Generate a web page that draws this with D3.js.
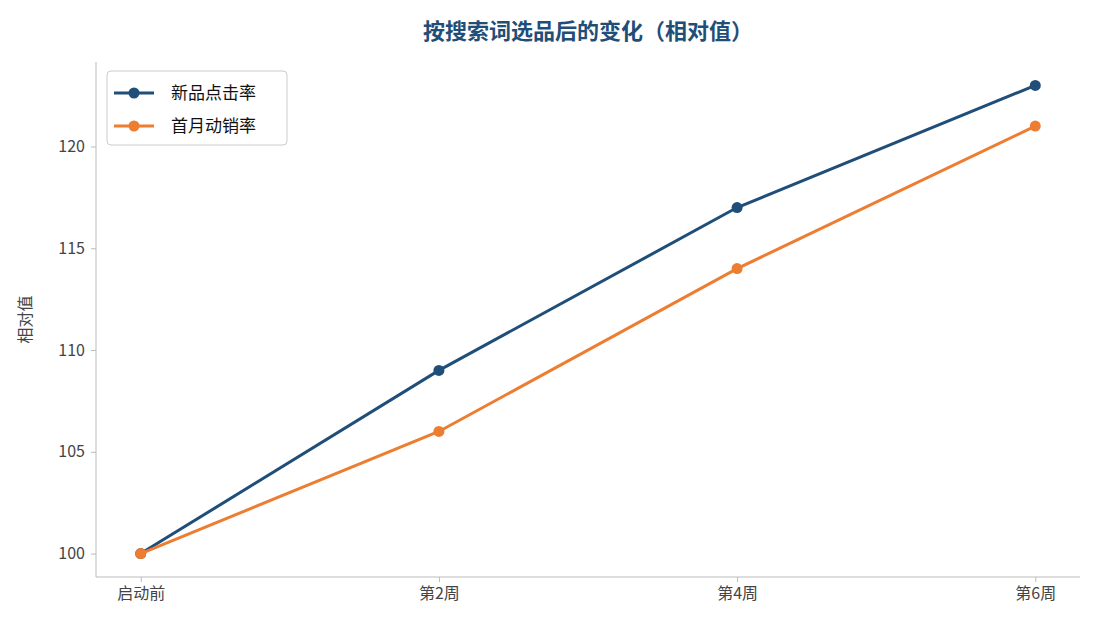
<!DOCTYPE html>
<html><head><meta charset="utf-8">
<script src="https://cdn.jsdelivr.net/npm/d3@7"></script>
<style>body{margin:0;background:#fff}text{font-family:"Noto Sans CJK SC","Noto Sans",sans-serif}</style>
</head><body>
<svg id="chart" width="1095" height="630"></svg>
<script>
var categories = ["启动前", "第2周", "第4周", "第6周"];
var clickRate = [100, 109, 117, 123];
var sellRate = [100, 106, 114, 121];
var yTicks = [100, 105, 110, 115, 120];
var seriesNames = ["新品点击率", "首月动销率"];
var colors = ["#1f4e79", "#ed7d31"];

var svg = d3.select("#chart");
var mLeft = 96, mRight = 1080, mTop = 62, mBottom = 577;
var x = d3.scaleLinear().domain([-0.15, 3.15]).range([mLeft, mRight]);
var y = d3.scaleLinear().domain([98.85, 124.15]).range([mBottom, mTop]);

svg.append("text").attr("x", (mLeft + mRight) / 2).attr("y", 39).attr("text-anchor", "middle")
  .attr("font-size", 22).attr("font-weight", "bold").attr("fill", "#1f4e79")
  .text("按搜索词选品后的变化（相对值）");

var xAxis = svg.append("g").attr("transform", "translate(0," + mBottom + ")")
  .call(d3.axisBottom(x).tickValues([0, 1, 2, 3]).tickFormat(function (d) { return categories[d]; }).tickSizeOuter(0).tickSize(5).tickPadding(6));
var yAxis = svg.append("g").attr("transform", "translate(" + mLeft + ",0)")
  .call(d3.axisLeft(y).tickValues(yTicks).tickSizeOuter(0).tickSize(5).tickPadding(6));
[xAxis, yAxis].forEach(function (g) {
  g.selectAll("path,line").attr("stroke", "#bbb");
  g.selectAll("text").attr("font-size", 16).attr("fill", "#444");
});
xAxis.select(".domain").attr("d", "M" + mLeft + ",0H" + mRight);
yAxis.select(".domain").attr("d", "M0," + mTop + "V" + mBottom);

svg.append("text").attr("transform", "translate(31," + ((mTop + mBottom) / 2) + ") rotate(-90)")
  .attr("text-anchor", "middle").attr("font-size", 16).attr("fill", "#444").text("相对值");

var line = d3.line().x(function (d, i) { return x(i); }).y(function (d) { return y(d); });
[clickRate, sellRate].forEach(function (s, k) {
  svg.append("path").datum(s).attr("d", line).attr("fill", "none")
    .attr("stroke", colors[k]).attr("stroke-width", 3);
  svg.selectAll(null).data(s).enter().append("circle")
    .attr("cx", function (d, i) { return x(i); }).attr("cy", function (d) { return y(d); })
    .attr("r", 5.5).attr("fill", colors[k]);
});

var lg = svg.append("g");
lg.append("rect").attr("x", 107).attr("y", 71).attr("width", 180).attr("height", 74).attr("rx", 4)
  .attr("fill", "#fff").attr("stroke", "#ccc");
seriesNames.forEach(function (n, k) {
  var yy = 93 + k * 33;
  lg.append("line").attr("x1", 114).attr("x2", 154).attr("y1", yy).attr("y2", yy)
    .attr("stroke", colors[k]).attr("stroke-width", 3);
  lg.append("circle").attr("cx", 134).attr("cy", yy).attr("r", 5.5).attr("fill", colors[k]);
  lg.append("text").attr("x", 171).attr("y", yy + 6).attr("font-size", 17).attr("fill", "#111").text(n);
});
</script>
</body></html>
